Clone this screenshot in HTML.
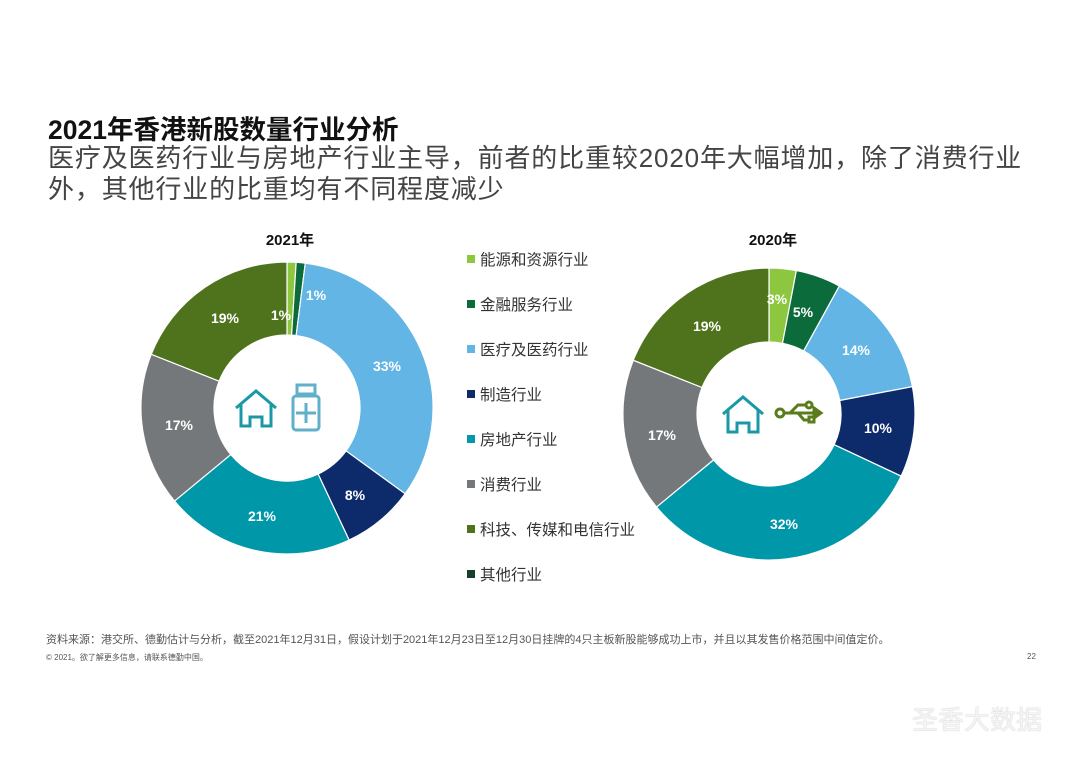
<!DOCTYPE html>
<html><head><meta charset="utf-8"><style>
body{margin:0;background:#fff;width:1080px;height:763px;overflow:hidden;font-family:"Liberation Sans","Noto Sans CJK SC",sans-serif;}
.t{position:absolute;white-space:nowrap;}
</style></head><body>
<div class="t" style="left:48px;top:108px;font-size:26.5px;font-weight:bold;color:#111;">2021年香港新股数量行业分析</div>
<div class="t" style="left:48px;top:143px;font-size:26px;letter-spacing:0.85px;color:#444;line-height:31px;">医疗及医药行业与房地产行业主导，前者的比重较2020年大幅增加，除了消费行业<br>外，其他行业的比重均有不同程度减少</div>
<svg id="s" width="1080" height="763" style="position:absolute;left:0;top:0" font-family="Liberation Sans, Noto Sans CJK SC, sans-serif"></svg>
<div class="t" style="left:46px;top:631px;font-size:11px;color:#555;">资料来源：港交所、德勤估计与分析，截至2021年12月31日，假设计划于2021年12月23日至12月30日挂牌的4只主板新股能够成功上市，并且以其发售价格范围中间值定价。</div>
<div class="t" style="left:46px;top:652px;font-size:8px;color:#555;">© 2021。欲了解更多信息，请联系德勤中国。</div>
<div class="t" style="left:1027px;top:652px;font-size:8px;color:#555;">22</div>
<div class="t" style="left:912px;top:700px;font-size:26px;color:#f4f4f4;text-shadow:0 0 1px #aaa;">圣香大数据</div>
<script>
var C=['#8dc63f','#0b6b3a','#62b5e5','#0d2a6b','#0097a9','#75787b','#4f731c'];
var s=document.getElementById('s'),h='';
function ring(cx,cy,R,r,d){var a=-Math.PI/2;d.forEach(function(v,i){var b=a+v/100*2*Math.PI,l=(b-a)>Math.PI?1:0;
function p(rr,t){return (cx+rr*Math.cos(t)).toFixed(2)+','+(cy+rr*Math.sin(t)).toFixed(2);}
h+='<path d="M'+p(R,a)+'A'+R+','+R+' 0 '+l+' 1 '+p(R,b)+'L'+p(r,b)+'A'+r+','+r+' 0 '+l+' 0 '+p(r,a)+'Z" fill="'+C[i]+'" stroke="#fff" stroke-width="1.2"/>';a=b;});}
ring(287,408,146,73,[1,1,33,8,21,17,19]);
ring(769,414,146,72,[3,5,14,10,32,17,19]);
function L(x,y,t){h+='<text x="'+x+'" y="'+y+'" fill="#fff" font-size="14" font-weight="bold" text-anchor="middle">'+t+'</text>';}
[[316,300,'1%'],[281,320,'1%'],[387,371,'33%'],[355,500,'8%'],[262,521,'21%'],[179,430,'17%'],[225,323,'19%'],
[777,304,'3%'],[803,317,'5%'],[856,355,'14%'],[878,433,'10%'],[784,529,'32%'],[662,440,'17%'],[707,331,'19%']].forEach(function(e){L(e[0],e[1],e[2]);});
h+='<text x="290" y="245" font-size="15" font-weight="bold" fill="#111" text-anchor="middle">2021年</text>';
h+='<text x="773" y="245" font-size="15" font-weight="bold" fill="#111" text-anchor="middle">2020年</text>';
function house(x,y){h+='<path d="M'+x+','+(y+8)+' l20,-17 l20,17 M'+(x+5)+','+(y+4)+' v22 h9 v-9 h12 v9 h9 v-22" fill="none" stroke="#1a98a6" stroke-width="3"/>';}
house(236,400);house(723,406);
h+='<g fill="none" stroke="#5fb0c8" stroke-width="3"><rect x="293" y="396" width="26" height="34" rx="3"/><rect x="297" y="385" width="18" height="9"/><path d="M306,403 v20 M296,413 h20"/></g>';
h+='<g fill="none" stroke="#5b7c1c" stroke-width="3"><circle cx="780" cy="413" r="4"/><path d="M784,413 h30 M790,413 l8,-8 h8 M798,413 l6,7 h5"/><circle cx="809" cy="405" r="3"/><rect x="809" y="417" width="5" height="5"/><path d="M814,408 l7,5 l-7,5z" fill="#5b7c1c"/></g>';
var lg=['能源和资源行业','金融服务行业','医疗及医药行业','制造行业','房地产行业','消费行业','科技、传媒和电信行业','其他行业'];
var lc=C.concat(['#16402a']);
lg.forEach(function(t,i){var y=259+i*45;h+='<rect x="467" y="'+(y-4)+'" width="8" height="8" fill="'+lc[i]+'"/><text x="480" y="'+(y+6)+'" font-size="15.5" fill="#333">'+t+'</text>';});
s.innerHTML=h;
</script>
</body></html>
